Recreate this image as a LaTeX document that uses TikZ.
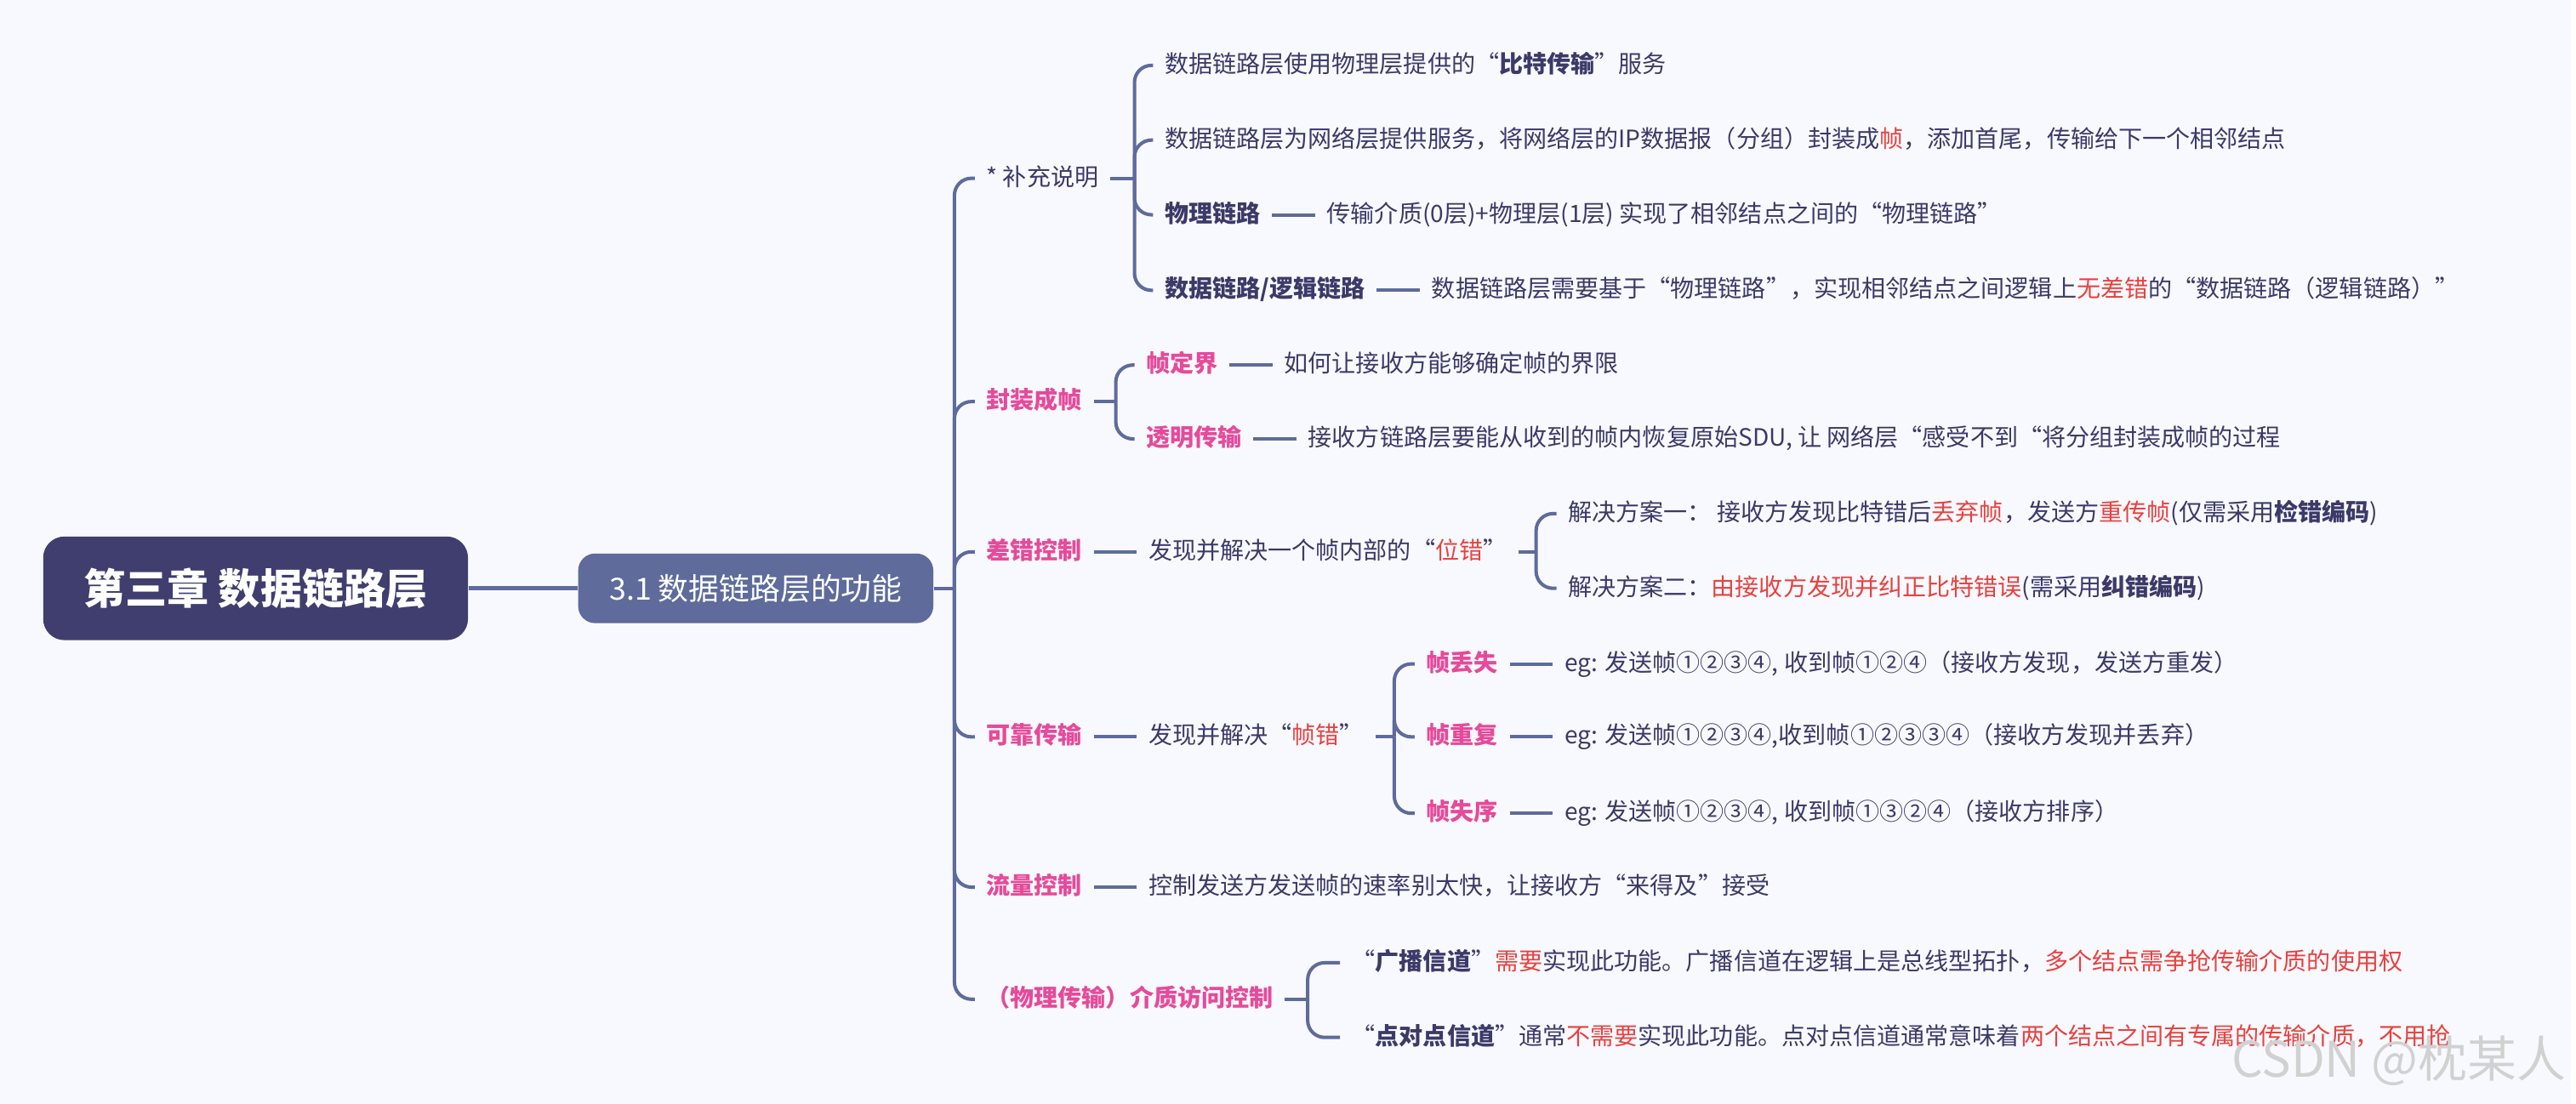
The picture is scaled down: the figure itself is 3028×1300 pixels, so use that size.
\documentclass[tikz,border=0pt]{standalone}
\usepackage{fontspec}
\setmainfont{Noto Sans CJK SC}
\usepackage{tikz}
\usetikzlibrary{positioning}

\definecolor{bgcol}{HTML}{F8F9FE}
\definecolor{rootcol}{HTML}{3F3E6E}
\definecolor{linecol}{HTML}{5E6B9B}
\definecolor{txtcol}{HTML}{3B3A68}
\definecolor{pinkcol}{HTML}{E64A9A}
\definecolor{redcol}{HTML}{E8413F}
\newcommand{\redt}[1]{\textcolor{redcol}{#1}}

\begin{document}
\begin{tikzpicture}[
    x=0.01cm, y=-0.01cm,
    rootbox/.style={fill=rootcol, rounded corners=0.25cm, minimum width=5cm, minimum height=1.22cm, text=white, font=\fontsize{14}{16}\selectfont\bfseries},
    secbox/.style={fill=linecol, rounded corners=0.2cm, minimum width=4.18cm, minimum height=0.82cm, text=white, font=\fontsize{10.2}{12}\selectfont},
    item/.style={anchor=west, inner xsep=0.13cm, inner ysep=0.03cm, text height=0.23cm, text depth=0.06cm, text=txtcol, font=\fontsize{8}{10}\selectfont},
    lbl/.style={item, font=\fontsize{8}{10}\selectfont\bfseries},
    keylbl/.style={lbl, text=pinkcol},
    conn/.style={draw=linecol, line width=1.15pt, rounded corners=0.2cm}
]
\fill[bgcol] (0,0) rectangle (3028,1300);

% root and section
\node[rootbox] (root) at (301,693) {第三章 数据链路层};
\node[secbox] (sec) at (890,693) {3.1 数据链路层的功能};
\coordinate (h0) at (1124,693);
\draw[conn, line width=1.4pt] (root) -- (sec);
\draw[conn] (sec) -- (h0);

% level 1
\node[item] (sup) at (1148,210) {* 补充说明};
\node[keylbl] (fz) at (1148,473) {封装成帧};
\node[keylbl] (cc) at (1148,650) {差错控制};
\node[keylbl] (kk) at (1148,868) {可靠传输};
\node[keylbl] (ll) at (1148,1045) {流量控制};
\node[keylbl] (mac) at (1148,1177) {（物理传输）介质访问控制};
\foreach \n in {sup,fz,cc,kk,ll,mac}
    \draw[conn] (h0) |- (\n.west);

% 补充说明
\coordinate (h1) at (1336,210);
\node[item] (a1) at (1358,77) {数据链路层使用物理层提供的“\textbf{比特传输}”服务};
\node[item] (a2) at (1358,165) {数据链路层为网络层提供服务，将网络层的IP数据报（分组）封装成\redt{帧}，添加首尾，传输给下一个相邻结点};
\node[lbl] (a3) at (1358,253) {物理链路};
\node[item, right=0.51cm of a3] (a3t) {传输介质(0层)+物理层(1层) 实现了相邻结点之间的“物理链路”};
\node[lbl] (a4) at (1358,342) {数据链路/逻辑链路};
\node[item, right=0.51cm of a4] (a4t) {数据链路层需要基于“物理链路”，实现相邻结点之间逻辑上\redt{无差错}的“数据链路（逻辑链路）”};
\draw[conn] (sup) -- (h1);
\foreach \n in {a1,a2,a3,a4}
    \draw[conn] (h1) |- (\n.west);
\draw[conn] (a3) -- (a3t);
\draw[conn] (a4) -- (a4t);

% 封装成帧
\coordinate (h2) at (1314,473);
\node[keylbl] (b1) at (1336,430) {帧定界};
\node[item, right=0.51cm of b1] (b1t) {如何让接收方能够确定帧的界限};
\node[keylbl] (b2) at (1336,517) {透明传输};
\node[item, right=0.51cm of b2] (b2t) {接收方链路层要能从收到的帧内恢复原始SDU, 让 网络层“感受不到“将分组封装成帧的过程};
\draw[conn] (fz) -- (h2);
\draw[conn] (h2) |- (b1.west);
\draw[conn] (h2) |- (b2.west);
\draw[conn] (b1) -- (b1t);
\draw[conn] (b2) -- (b2t);

% 差错控制
\node[item, right=0.51cm of cc] (cct) {发现并解决一个帧内部的“\redt{位错}”};
\coordinate (h3) at (1809,650);
\node[item] (s1) at (1833,605) {解决方案一：~接收方发现比特错后\redt{丢弃帧}，发送方\redt{重传帧}(仅需采用\textbf{检错编码})};
\node[item] (s2) at (1833,693) {解决方案二：\redt{由接收方发现并纠正比特错误}(需采用\textbf{纠错编码})};
\draw[conn] (cc) -- (cct);
\draw[conn] (cct) -- (h3);
\draw[conn] (h3) |- (s1.west);
\draw[conn] (h3) |- (s2.west);

% 可靠传输
\node[item, right=0.51cm of kk] (kkt) {发现并解决“\redt{帧错}”};
\coordinate (h4) at (1642,868);
\node[keylbl] (c1) at (1666,782) {帧丢失};
\node[item, right=0.51cm of c1] (c1t) {eg: 发送帧①②③④, 收到帧①②④（接收方发现，发送方重发）};
\node[keylbl] (c2) at (1666,868) {帧重复};
\node[item, right=0.51cm of c2] (c2t) {eg: 发送帧①②③④,收到帧①②③③④（接收方发现并丢弃）};
\node[keylbl] (c3) at (1666,958) {帧失序};
\node[item, right=0.51cm of c3] (c3t) {eg: 发送帧①②③④, 收到帧①③②④（接收方排序）};
\draw[conn] (kk) -- (kkt);
\draw[conn] (kkt) -- (h4);
\foreach \n in {c1,c2,c3} {
    \draw[conn] (h4) |- (\n.west);
    \draw[conn] (\n) -- (\n t);
}

% 流量控制
\node[item, right=0.51cm of ll] (llt) {控制发送方发送帧的速率别太快，让接收方“来得及”接受};
\draw[conn] (ll) -- (llt);

% 介质访问控制
\coordinate (h5) at (1540,1177);
\node[item] (m1) at (1578,1134) {“\textbf{广播信道}”\redt{需要}实现此功能。广播信道在逻辑上是总线型拓扑，\redt{多个结点需争抢传输介质的使用权}};
\node[item] (m2) at (1578,1222) {“\textbf{点对点信道}”通常\redt{不需要}实现此功能。点对点信道通常意味着\redt{两个结点之间有专属的传输介质，不用抢}};
\draw[conn] (mac) -- (h5);
\draw[conn] (h5) |- (m1.west);
\draw[conn] (h5) |- (m2.west);

\node[text=black!18, font=\fontsize{16.5}{18}\selectfont] (wm) at (2825,1250) {CSDN @枕某人};
\end{tikzpicture}
\end{document}
